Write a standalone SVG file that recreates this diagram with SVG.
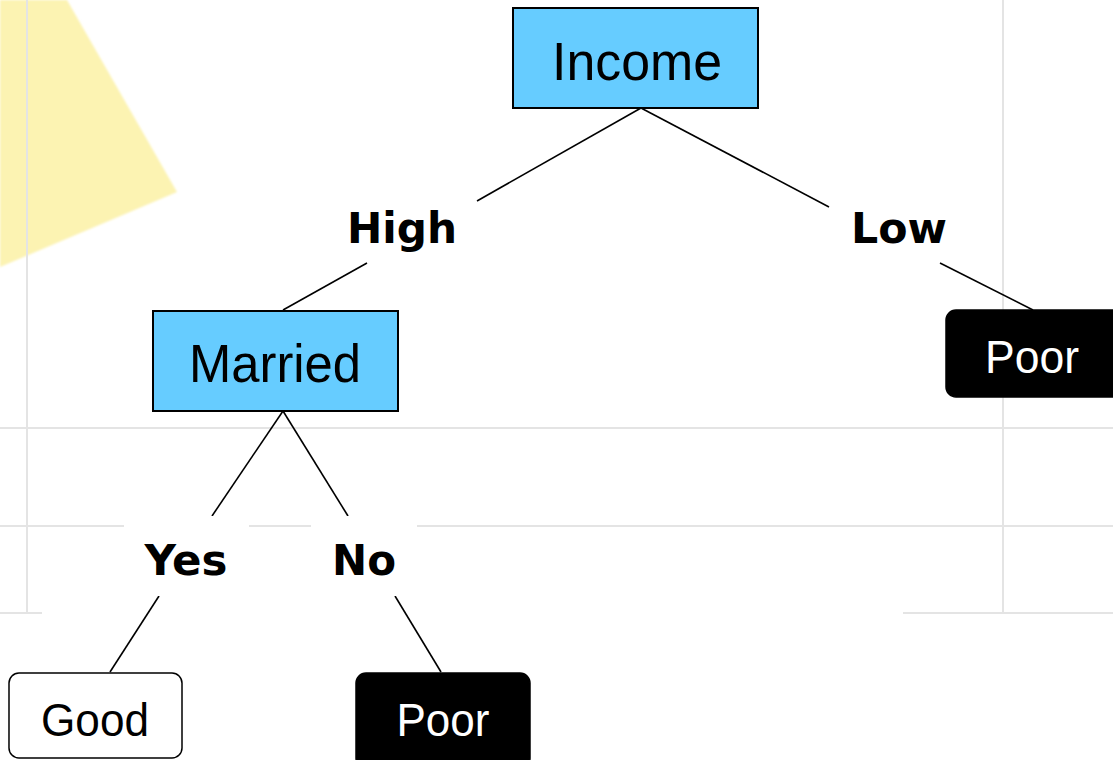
<svg xmlns="http://www.w3.org/2000/svg" width="1113" height="760" viewBox="0 0 1113 760">
  <defs>
    <filter id="soft" x="-5%" y="-5%" width="110%" height="110%">
      <feGaussianBlur stdDeviation="1"/>
    </filter>
  </defs>
  <style>
    .grid { stroke: #E4E4E4; stroke-width: 2; fill: none; }
    .decision { fill: #66CCFF; stroke: #000; stroke-width: 2; }
    .good { fill: #FFFFFF; stroke: #000; stroke-width: 1.5; }
    .poor { fill: #000000; stroke: #000; stroke-width: 1.5; }
    .ntext { font-family: "Liberation Sans", Arial, sans-serif; font-size: 54px; fill: #000; text-anchor: middle; }
    .ltext { font-family: "Liberation Sans", Arial, sans-serif; font-size: 47px; text-anchor: middle; }
    .label { font-family: "DejaVu Sans", Verdana, sans-serif; font-weight: bold; font-size: 42px; fill: #000; text-anchor: middle; }
    .edge { stroke: #000; stroke-width: 1.6; fill: none; }
    .lblbg { fill: #FFFFFF; }
  </style>

  <rect width="1113" height="760" fill="#FFFFFF"/>

  <!-- background decoration -->
  <polygon points="0,0 67,0 177,192 0,267" fill="#FCF3B2" filter="url(#soft)"/>

  <!-- grid -->
  <g id="grid">
    <line class="grid" x1="27" y1="0" x2="27" y2="613"/>
    <line class="grid" x1="1003" y1="0" x2="1003" y2="613"/>
    <line class="grid" x1="0" y1="428" x2="1113" y2="428"/>
    <line class="grid" x1="0" y1="526" x2="1113" y2="526"/>
    <line class="grid" x1="0" y1="613" x2="42" y2="613"/>
    <line class="grid" x1="903" y1="613" x2="1113" y2="613"/>
  </g>

  <!-- connectors -->
  <g id="connectors">
    <line class="edge" x1="641" y1="108" x2="477" y2="201"/>
    <line class="edge" x1="641" y1="108" x2="829" y2="207"/>
    <line class="edge" x1="367" y1="263" x2="283" y2="310"/>
    <line class="edge" x1="940" y1="263" x2="1033" y2="310"/>
    <line class="edge" x1="283" y1="411" x2="212" y2="516"/>
    <line class="edge" x1="283" y1="411" x2="348" y2="516"/>
    <line class="edge" x1="159" y1="596" x2="110" y2="672"/>
    <line class="edge" x1="395" y1="596" x2="441" y2="672"/>
  </g>

  <!-- edge labels -->
  <g id="label-high">
    <text class="label" x="402" y="243" textLength="110" lengthAdjust="spacingAndGlyphs">High</text>
  </g>
  <g id="label-low">
    <text class="label" x="899" y="243" textLength="96" lengthAdjust="spacingAndGlyphs">Low</text>
  </g>
  <g id="label-yes">
    <rect class="lblbg" x="124" y="516" width="125" height="80"/>
    <text class="label" x="186" y="575" textLength="83" lengthAdjust="spacingAndGlyphs">Yes</text>
  </g>
  <g id="label-no">
    <rect class="lblbg" x="311" y="516" width="106" height="80"/>
    <text class="label" x="364" y="575" textLength="64" lengthAdjust="spacingAndGlyphs">No</text>
  </g>

  <!-- nodes -->
  <g id="node-income">
    <rect class="decision" x="513" y="8" width="245" height="100"/>
    <text class="ntext" x="637" y="80" textLength="170" lengthAdjust="spacingAndGlyphs">Income</text>
  </g>
  <g id="node-married">
    <rect class="decision" x="153" y="311" width="245" height="100"/>
    <text class="ntext" x="275" y="382" textLength="172" lengthAdjust="spacingAndGlyphs">Married</text>
  </g>
  <g id="node-poor-low">
    <rect class="poor" x="946" y="310" width="180" height="87" rx="10" ry="10"/>
    <text class="ltext" x="1032" y="373" fill="#FFFFFF" textLength="94" lengthAdjust="spacingAndGlyphs">Poor</text>
  </g>
  <g id="node-good">
    <rect class="good" x="9" y="673" width="173" height="85" rx="10" ry="10"/>
    <text class="ltext" x="95" y="736" fill="#000000" textLength="108" lengthAdjust="spacingAndGlyphs">Good</text>
  </g>
  <g id="node-poor-no">
    <rect class="poor" x="356" y="673" width="174" height="95" rx="10" ry="10"/>
    <text class="ltext" x="443" y="736" fill="#FFFFFF" textLength="93" lengthAdjust="spacingAndGlyphs">Poor</text>
  </g>
</svg>
